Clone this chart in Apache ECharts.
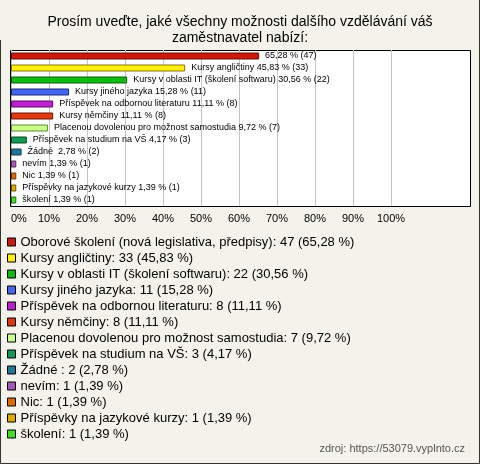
<!DOCTYPE html>
<html>
<head>
<meta charset="utf-8">
<script src="https://cdn.jsdelivr.net/npm/echarts@6/dist/echarts.min.js"></script>
<style>
    html, body { margin: 0; padding: 0; }
    #chart { width: 480px; height: 464px; }
</style>
</head>
<body>
<div id="chart"></div>
<script>
// data
var categories = [
    'Oborové školení (nová legislativa, předpisy)',
    'Kursy angličtiny',
    'Kursy v oblasti IT (školení softwaru)',
    'Kursy jiného jazyka',
    'Příspěvek na odbornou literaturu',
    'Kursy němčiny',
    'Placenou dovolenou pro možnost samostudia',
    'Příspěvek na studium na VŠ',
    'Žádné ',
    'nevím',
    'Nic',
    'Příspěvky na jazykové kurzy',
    'školení'
];
var counts = [47, 33, 22, 11, 8, 8, 7, 3, 2, 1, 1, 1, 1];
var percents = [65.28, 45.83, 30.56, 15.28, 11.11, 11.11, 9.72, 4.17, 2.78, 1.39, 1.39, 1.39, 1.39];
var xTicks = [0, 10, 20, 30, 40, 50, 60, 70, 80, 90, 100];

// barvy
var colors = ['#cc1a0e', '#ffee11', '#11bb11', '#4466ee', '#bb22cc', '#dd3a11', '#ccff88',
    '#119955', '#227799', '#aa55bb', '#dd6a00', '#ddaa00', '#44dd22'];
var borders = ['#6a0a05', '#8a7a00', '#066006', '#1a2a80', '#5a0a66', '#701a05', '#5a8a30',
    '#064a28', '#0f3a4c', '#552a5c', '#6a3300', '#6a5200', '#1a6a0a'];

var fmtPct = function(v) {
    return v.toFixed(2).replace('.', ',');
};

(function() {
    var chart = echarts.init(document.getElementById('chart'));
    var font = 'Liberation Sans, Arial, sans-serif';

    var series = [];
    for (var i = 0; i < categories.length; i++) {
        var d = [];
        for (var j = 0; j < categories.length; j++) d.push(j == i ? percents[i] : '-');
        series.push({
            name: categories[i],
            type: 'bar',
            stack: 'all',
            barWidth: 7,
            itemStyle: {
                color: colors[i],
                borderColor: borders[i],
                borderWidth: 1
            },
            label: {
                show: true,
                position: 'right',
                distance: 6,
                fontSize: 9,
                fontFamily: font,
                color: '#000',
                formatter: function(p) {
                    var k = p.dataIndex;
                    var txt = fmtPct(percents[k]) + ' % (' + counts[k] + ')';
                    // první popisek je bez názvu
                    return k == 0 ? txt : categories[k] + ' ' + txt;
                }
            },
            data: d
        });
    }

    var option = {
        backgroundColor: '#f4f3eb',
        animation: false,
        title: [{
            text: 'Prosím uveďte, jaké všechny možnosti dalšího vzdělávání váš\nzaměstnavatel nabízí:',
            left: 'center',
            top: 9,
            textStyle: {
                fontFamily: font,
                fontSize: 14,
                fontWeight: 'normal',
                color: '#000',
                lineHeight: 16,
                align: 'center'
            }
        }, {
            text: 'zdroj: https://53079.vyplnto.cz',
            right: 10,
            bottom: 5,
            textStyle: {
                fontFamily: font,
                fontSize: 11,
                fontWeight: 'normal',
                color: '#555'
            }
        }],
        graphic: {
            elements: [{
                type: 'rect',
                z: -100,
                shape: { x: 10.5, y: 50.5, width: 460, height: 156 },
                style: { fill: '#fff', stroke: '#000', lineWidth: 1 }
            }, {
                type: 'polyline',
                shape: { points: [[0.5, 40], [0.5, 463.5], [479.5, 463.5], [479.5, 0]] },
                style: { fill: null, stroke: '#333', lineWidth: 1 }
            }]
        },
        legend: {
            orient: 'vertical',
            left: 2,
            top: 230,
            itemWidth: 8,
            itemHeight: 8,
            itemGap: 2,
            icon: 'rect',
            itemStyle: { borderColor: '#000', borderWidth: 1 },
            textStyle: {
                fontFamily: font,
                fontSize: 13,
                color: '#000',
                lineHeight: 14
            },
            formatter: function(name) {
                var k = categories.indexOf(name);
                return name + ': ' + counts[k] + ' (' + fmtPct(percents[k]) + ' %)';
            },
            data: categories
        },
        grid: {
            left: 11,
            right: 89,
            top: 50,
            bottom: 464 - 206,
            containLabel: false
        },
        xAxis: {
            type: 'value',
            min: 0,
            max: 100,
            interval: 10,
            axisLine: { show: false },
            axisTick: { show: false },
            splitLine: { lineStyle: { color: '#c4c4c4', width: 1 } },
            axisLabel: {
                margin: 7,
                alignMinLabel: 'left',
                fontFamily: font,
                fontSize: 11,
                color: '#000',
                formatter: function(v) {
                    return xTicks.indexOf(v) >= 0 ? v + '%' : '';
                }
            }
        },
        yAxis: {
            type: 'category',
            inverse: true,
            axisLine: { show: false },
            axisTick: { show: false },
            axisLabel: { show: false },
            data: categories
        },
        series: series
    };
    chart.setOption(option);
})();
</script>
</body>
</html>
